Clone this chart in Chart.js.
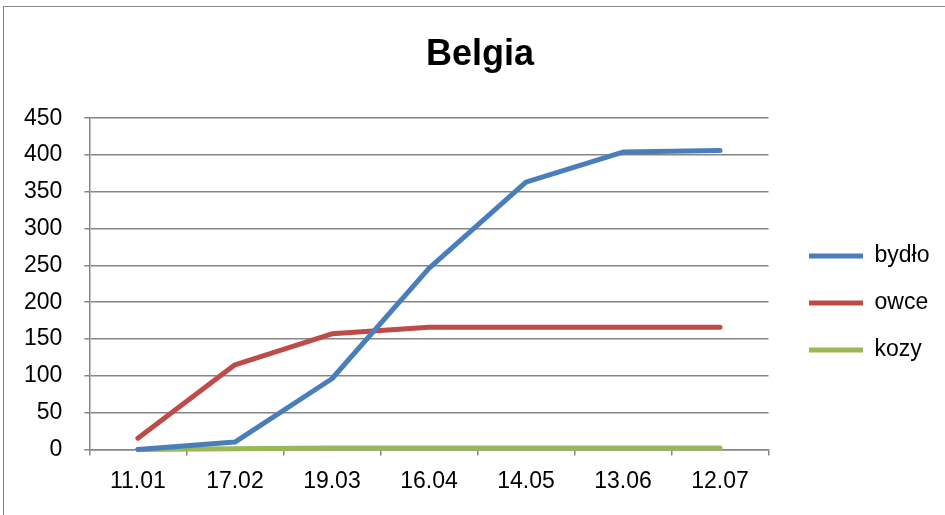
<!DOCTYPE html>
<html>
<head>
<meta charset="utf-8">
<script src="https://cdn.jsdelivr.net/npm/chart.js@4/dist/chart.umd.min.js"></script>
<style>
html,body{margin:0;padding:0;background:#fff;overflow:hidden;}
#wrap{position:relative;width:945px;height:515px;}
#frame{position:absolute;left:3px;top:6px;width:960px;height:530px;border:1.5px solid #868686;box-sizing:border-box;pointer-events:none;}
</style>
</head>
<body>
<div id="wrap">
<canvas id="chart" width="945" height="515"></canvas>
<div id="frame"></div>
</div>
<script>
const dates = ["11.01","17.02","19.03","16.04","14.05","13.06","12.07"];

const bydlo = [0, 10, 96, 246, 363, 404, 406];

const owce = [15, 115, 157, 166, 166, 166, 166];

const kozy = [0, 1, 2, 2, 2, 2, 2];

const GRID = "#868686";

const FONT = "'Liberation Sans', Arial, sans-serif";

// Excel puts the legend and title a bit off where Chart.js would
const layoutNudge = {
    id:"layoutNudge",
    afterLayout(chart){
        const lg = chart.legend;
        const dx = 785 - lg.left;
        lg.left += dx;
        lg.right += dx;
        const dy = 303 - (lg.top + lg.bottom) / 2;
        lg.top += dy;
        lg.bottom += dy;

        const t = chart.titleBlock;
        const tx = 480 - (t.left + t.right) / 2;
        t.left += tx;
        t.right += tx;
    }
};

function series(label, data, color){
    return {
        label:label,
        data:data,
        borderColor:color,
        backgroundColor:color,
        borderWidth:5,
        borderCapStyle:"round",
        borderJoinStyle:"round",
        pointRadius:0,
        tension:0,
        clip:false
    };
}

const ctx = document.getElementById("chart").getContext("2d");

new Chart(ctx,{
    type:"line",
    data:{
        labels:dates,
        datasets:[
            series("bydło", bydlo, "#4A7EBB"),
            series("owce", owce, "#BE4B48"),
            series("kozy", kozy, "#98B954")
        ]
    },
    plugins:[layoutNudge],
    options:{
        responsive:false,
        animation:false,
        layout:{
            padding:{left:2, right:22, top:10, bottom:8}
        },
        plugins:{
            title:{
                display:true,
                text:"Belgia",
                color:"#000",
                font:{family:FONT, size:36, weight:"bold"},
                padding:{top:23, bottom:42}
            },
            legend:{
                position:"right",
                labels:{
                    color:"#000",
                    font:{family:FONT, size:23},
                    usePointStyle:true,
                    pointStyle:"line",
                    pointStyleWidth:54,
                    boxHeight:23,
                    padding:24
                }
            },
            tooltip:{enabled:false}
        },
        scales:{
            x:{
                offset:true,
                grid:{
                    offset:true,
                    drawOnChartArea:false,
                    drawTicks:true,
                    tickLength:6,
                    color:GRID,
                    lineWidth:1.5
                },
                border:{color:GRID, width:1.5},
                ticks:{
                    color:"#000",
                    font:{family:FONT, size:23},
                    padding:12,
                    maxRotation:0
                }
            },
            y:{
                min:0,
                max:450,
                grid:{
                    color:GRID,
                    lineWidth:1.5,
                    tickLength:5
                },
                border:{color:GRID, width:1.5},
                ticks:{
                    stepSize:50,
                    color:"#000",
                    font:{family:FONT, size:23},
                    padding:22
                }
            }
        }
    }
});
</script>
</body>
</html>
